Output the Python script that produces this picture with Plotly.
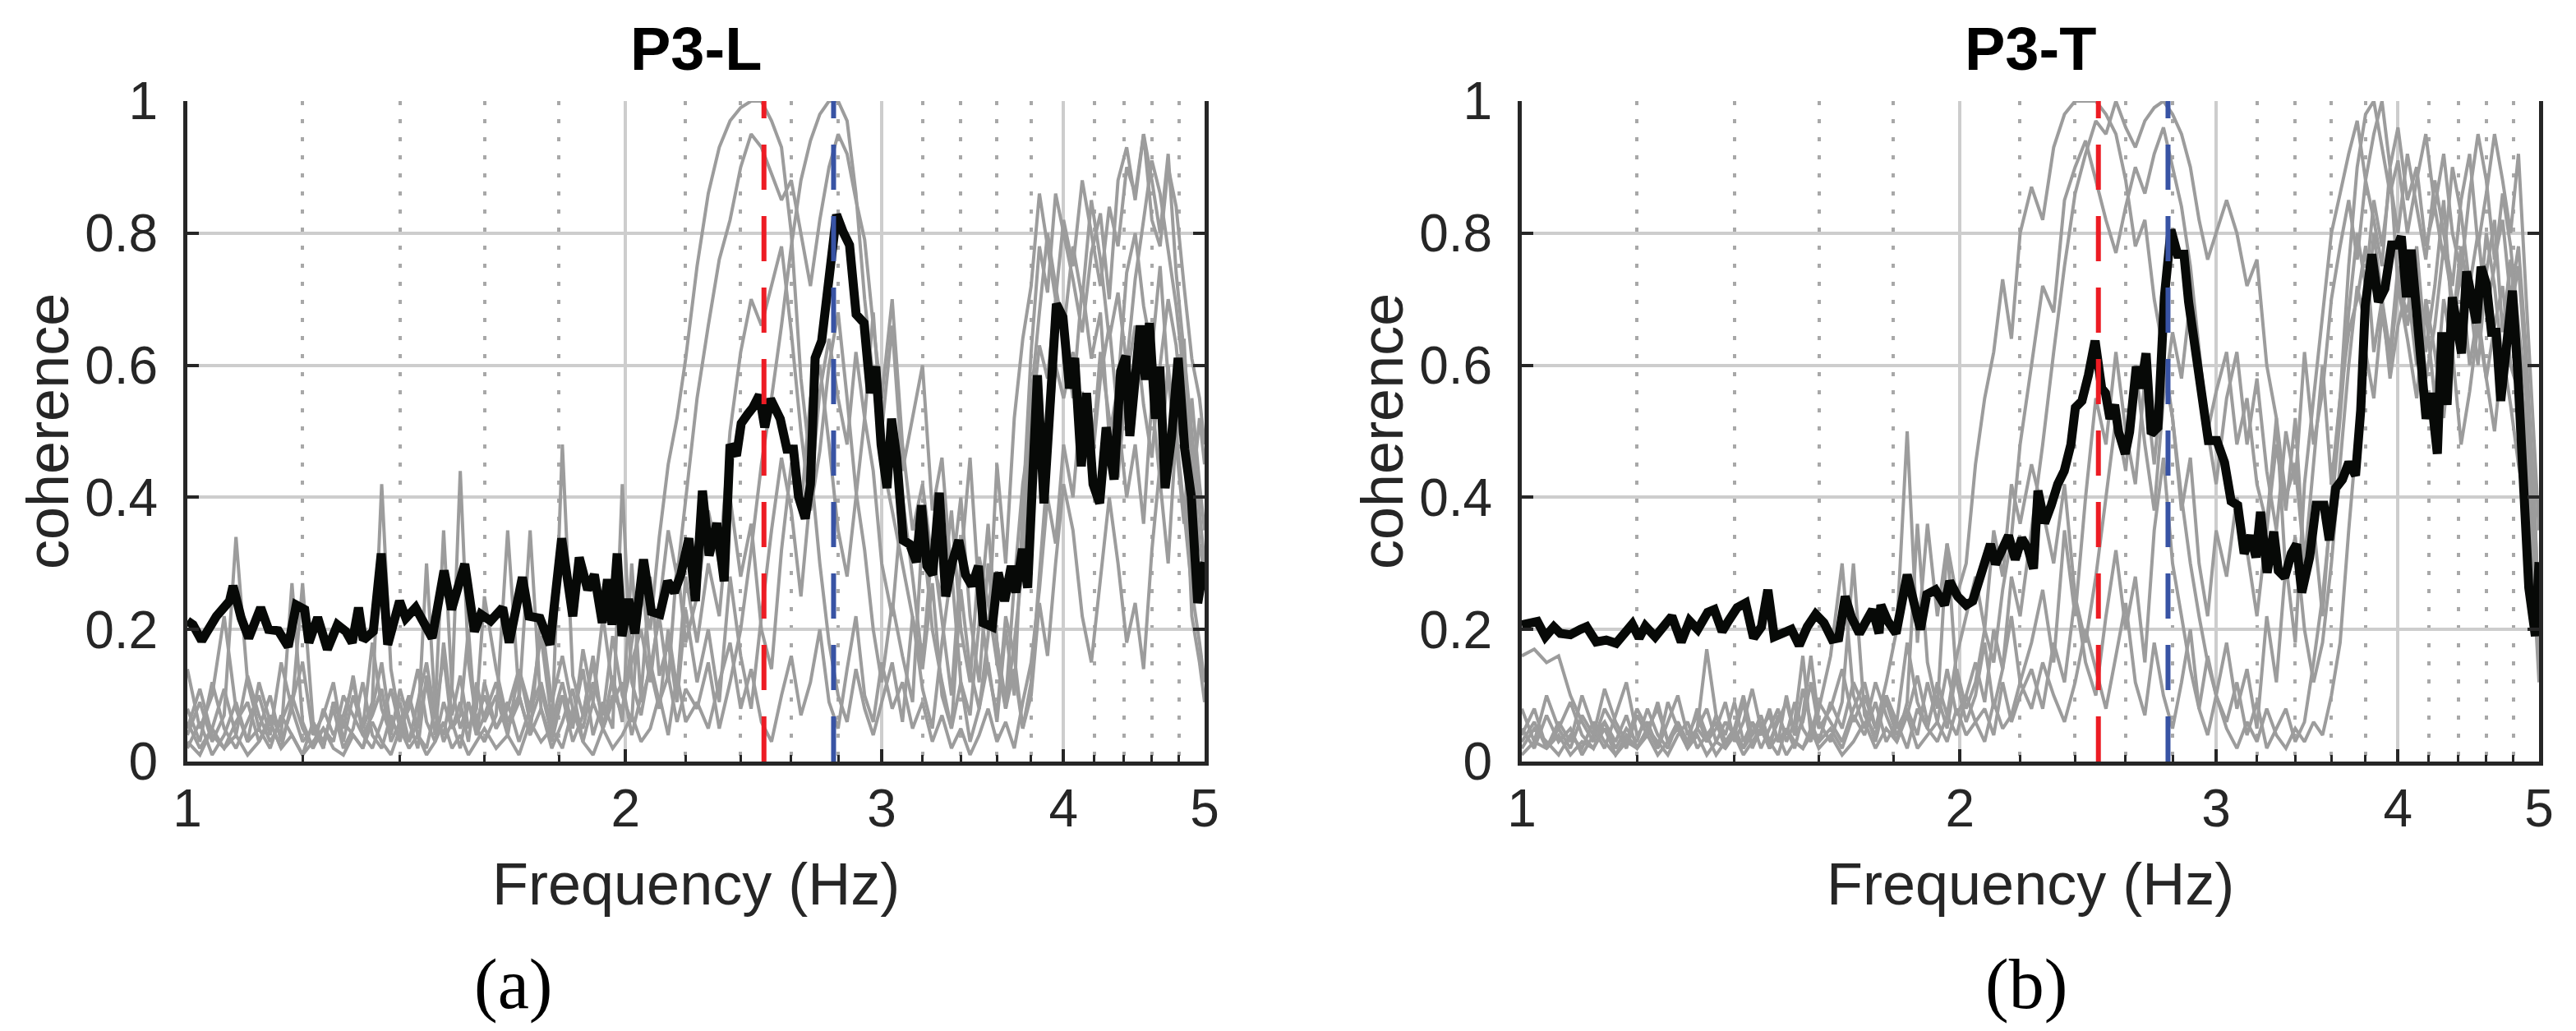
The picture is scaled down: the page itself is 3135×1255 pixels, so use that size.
import math
import plotly.graph_objects as go

# ---------------- data ----------------
# sampling grid (Hz) for the individual (grey) coherence curves
FG = [1.00, 1.02, 1.04, 1.06, 1.08, 1.10, 1.12, 1.14, 1.16, 1.18, 1.20, 1.22, 1.24, 1.26, 1.28, 1.30,
      1.32, 1.34, 1.36, 1.38, 1.40, 1.42, 1.44, 1.46, 1.48, 1.50, 1.52, 1.54, 1.56, 1.58, 1.60,
      1.63, 1.66, 1.69, 1.72, 1.75, 1.78, 1.81, 1.84, 1.87, 1.90, 1.93, 1.96, 1.99, 2.02, 2.05,
      2.08, 2.11, 2.14, 2.17, 2.20,
      2.24, 2.28, 2.32, 2.36, 2.40, 2.44, 2.48, 2.52, 2.56, 2.60, 2.64, 2.68, 2.72, 2.76, 2.80,
      2.84, 2.88, 2.92, 2.96, 3.00,
      3.05, 3.10, 3.15, 3.20, 3.25, 3.30, 3.35, 3.40, 3.45, 3.50, 3.55, 3.60, 3.65, 3.70, 3.75,
      3.80, 3.85, 3.90, 3.95, 4.00,
      4.06, 4.12, 4.18, 4.24, 4.30, 4.36, 4.42, 4.48, 4.54, 4.60, 4.66, 4.72, 4.78, 4.84, 4.90,
      4.96, 5.00]

# ---- P3-L individual curves ----
GL1 = ([0.14,0.05,0.10,0.22,0.08,0.03,0.12,0.06,0.02,0.09,0.15,0.04,0.07,0.12,0.03,0.10,0.05,0.18,0.08,0.04,0.11,0.06,0.02,0.13,0.07,0.16,0.05,0.09,0.03,0.12,0.06]
       + [0.10,0.04,0.14,0.08,0.19,0.06,0.12,0.05,0.17,0.09,0.22,0.11,0.07,0.18,0.26,0.20,0.34,0.45,0.52,0.61]
       + [0.75,0.86,0.93,0.97,0.99,1.00,1.00,0.97,0.93,0.80,0.58,0.45,0.30,0.18,0.10,0.06,0.14,0.08,0.04,0.09]
       + [0.15,0.06,0.22,0.11,0.05,0.18,0.29,0.12,0.07,0.21,0.36,0.18,0.09,0.27,0.42,0.51,0.63,0.58,0.70,0.66]
       + [0.55,0.72,0.61,0.68,0.49,0.57,0.74,0.80,0.69,0.62,0.75,0.58,0.47,0.64,0.40,0.52,0.45])
GL2 = ([0.04,0.09,0.03,0.07,0.34,0.12,0.05,0.10,0.03,0.08,0.27,0.06,0.02,0.09,0.05,0.13,0.04,0.07,0.11,0.03,0.06,0.10,0.04,0.02,0.08,0.35,0.11,0.05,0.09,0.04,0.07]
       + [0.12,0.05,0.09,0.35,0.08,0.03,0.10,0.06,0.14,0.04,0.09,0.05,0.42,0.12,0.07,0.15,0.09,0.13,0.06,0.11]
       + [0.08,0.15,0.05,0.12,0.20,0.32,0.45,0.55,0.66,0.78,0.88,0.94,0.98,1.00,1.00,0.97,0.86,0.70,0.58,0.46]
       + [0.38,0.30,0.22,0.14,0.27,0.10,0.05,0.12,0.03,0.08,0.15,0.06,0.20,0.10,0.38,0.62,0.78,0.71,0.86,0.80]
       + [0.73,0.65,0.77,0.83,0.70,0.88,0.93,0.85,0.95,0.82,0.78,0.90,0.84,0.72,0.61,0.55,0.48])
GL3 = ([0.06,0.02,0.05,0.11,0.04,0.13,0.07,0.03,0.06,0.10,0.05,0.02,0.08,0.04,0.07,0.12,0.05,0.09,0.42,0.14,0.06,0.03,0.09,0.15,0.07,0.04,0.11,0.44,0.15,0.06,0.10]
       + [0.05,0.08,0.14,0.06,0.11,0.04,0.48,0.13,0.07,0.16,0.05,0.10,0.08,0.15,0.20,0.12,0.24,0.35,0.28,0.40]
       + [0.55,0.66,0.76,0.82,0.90,0.95,0.93,0.89,0.85,0.88,0.80,0.72,0.82,0.90,0.95,0.92,0.85,0.79,0.66,0.55]
       + [0.70,0.48,0.35,0.42,0.30,0.25,0.38,0.20,0.12,0.31,0.24,0.15,0.08,0.18,0.30,0.55,0.68,0.80,0.72,0.65]
       + [0.78,0.70,0.85,0.76,0.64,0.71,0.60,0.73,0.82,0.91,0.86,0.77,0.69,0.58,0.45,0.33,0.28])
GL4 = ([0.02,0.06,0.01,0.04,0.09,0.03,0.05,0.02,0.07,0.04,0.01,0.06,0.03,0.08,0.02,0.05,0.12,0.04,0.02,0.07,0.03,0.10,0.05,0.30,0.08,0.03,0.06,0.02,0.09,0.05,0.03]
       + [0.07,0.35,0.10,0.04,0.08,0.02,0.06,0.11,0.03,0.09,0.05,0.13,0.06,0.30,0.09,0.14,0.22,0.12,0.30,0.18]
       + [0.25,0.38,0.30,0.50,0.62,0.70,0.66,0.72,0.78,0.65,0.50,0.38,0.47,0.60,0.68,0.55,0.41,0.32,0.20,0.12]
       + [0.24,0.16,0.09,0.35,0.20,0.12,0.05,0.26,0.14,0.08,0.19,0.45,0.30,0.52,0.64,0.72,0.86,0.78,0.70,0.82]
       + [0.75,0.88,0.80,0.72,0.84,0.78,0.90,0.86,0.95,0.88,0.80,0.92,0.74,0.62,0.50,0.38,0.30])
GL5 = ([0.08,0.03,0.12,0.05,0.02,0.06,0.10,0.04,0.15,0.08,0.03,0.05,0.02,0.09,0.06,0.04,0.02,0.08,0.15,0.05,0.09,0.03,0.06,0.12,0.04,0.18,0.07,0.13,0.05,0.08,0.25]
       + [0.14,0.06,0.10,0.04,0.22,0.09,0.16,0.08,0.05,0.12,0.07,0.19,0.10,0.06,0.30,0.14,0.08,0.20,0.11,0.28]
       + [0.18,0.30,0.22,0.40,0.28,0.36,0.20,0.14,0.32,0.45,0.38,0.55,0.60,0.48,0.35,0.28,0.40,0.52,0.44,0.30]
       + [0.22,0.40,0.28,0.15,0.33,0.21,0.10,0.30,0.46,0.25,0.14,0.07,0.22,0.16,0.05,0.12,0.28,0.45,0.60,0.55]
       + [0.62,0.50,0.44,0.58,0.66,0.52,0.40,0.48,0.36,0.55,0.42,0.30,0.50,0.38,0.26,0.18,0.12])
GL6 = ([0.05,0.11,0.04,0.02,0.06,0.09,0.03,0.07,0.04,0.27,0.06,0.02,0.05,0.03,0.10,0.07,0.04,0.02,0.06,0.11,0.05,0.08,0.14,0.06,0.03,0.09,0.05,0.07,0.20,0.04,0.12]
       + [0.05,0.09,0.03,0.08,0.12,0.05,0.10,0.03,0.07,0.15,0.05,0.09,0.12,0.04,0.10,0.28,0.13,0.18,0.09,0.23]
       + [0.12,0.20,0.09,0.28,0.16,0.08,0.22,0.35,0.46,0.38,0.25,0.40,0.56,0.64,0.55,0.48,0.62,0.52,0.68,0.50]
       + [0.66,0.44,0.52,0.60,0.38,0.46,0.28,0.40,0.22,0.12,0.30,0.18,0.08,0.14,0.05,0.10,0.24,0.16,0.30,0.42]
       + [0.35,0.22,0.15,0.28,0.40,0.30,0.18,0.24,0.14,0.32,0.45,0.60,0.48,0.36,0.55,0.42,0.35])
GL7 = ([0.03,0.01,0.05,0.02,0.04,0.01,0.03,0.06,0.02,0.04,0.01,0.03,0.05,0.02,0.01,0.04,0.02,0.06,0.03,0.01,0.05,0.02,0.04,0.01,0.03,0.06,0.02,0.04,0.01,0.03,0.05]
       + [0.02,0.04,0.01,0.06,0.03,0.05,0.02,0.08,0.03,0.01,0.05,0.02,0.04,0.07,0.03,0.05,0.10,0.04,0.13,0.06]
       + [0.09,0.05,0.12,0.18,0.08,0.14,0.06,0.03,0.10,0.16,0.07,0.12,0.20,0.09,0.05,0.14,0.22,0.10,0.06,0.15]
       + [0.08,0.12,0.05,0.09,0.03,0.07,0.02,0.05,0.01,0.04,0.08,0.03,0.06,0.02,0.09,0.15,0.26,0.40,0.33,0.48]
       + [0.40,0.56,0.45,0.62,0.52,0.43,0.58,0.66,0.54,0.46,0.60,0.70,0.63,0.50,0.22,0.15,0.09])

# ---- P3-T individual curves ----
GR1 = ([0.16,0.17,0.15,0.16,0.10,0.06,0.03,0.08,0.05,0.02,0.07,0.04,0.09,0.03,0.06,0.02,0.05,0.08,0.03,0.06,0.04,0.09,0.02,0.05,0.07,0.03,0.10,0.04,0.06,0.12,0.05]
       + [0.08,0.14,0.06,0.10,0.05,0.12,0.20,0.50,0.18,0.36,0.22,0.33,0.25,0.30,0.45,0.55,0.62,0.73,0.64,0.80]
       + [0.87,0.82,0.93,0.98,1.00,1.00,1.00,0.98,0.95,0.88,0.78,0.82,0.70,0.62,0.52,0.40,0.30,0.22,0.15,0.10]
       + [0.18,0.08,0.14,0.05,0.22,0.12,0.30,0.18,0.42,0.55,0.68,0.80,0.86,0.92,0.97,0.88,0.95,1.00,0.90,0.96]
       + [0.85,0.90,0.78,0.84,0.92,0.80,0.74,0.86,0.95,0.88,0.76,0.82,0.70,0.78,0.62,0.40,0.22])
GR2 = ([0.05,0.02,0.07,0.03,0.05,0.01,0.04,0.06,0.02,0.05,0.03,0.08,0.04,0.02,0.06,0.03,0.05,0.17,0.07,0.03,0.05,0.02,0.06,0.04,0.08,0.03,0.05,0.02,0.07,0.16,0.06]
       + [0.03,0.09,0.30,0.07,0.04,0.10,0.05,0.08,0.04,0.12,0.06,0.14,0.07,0.10,0.15,0.09,0.20,0.14,0.28,0.22]
       + [0.35,0.48,0.62,0.75,0.86,0.92,0.97,0.95,1.00,0.96,0.93,0.97,0.99,1.00,0.98,0.95,0.90,0.82,0.76,0.80]
       + [0.85,0.80,0.72,0.76,0.60,0.52,0.40,0.45,0.30,0.36,0.22,0.40,0.55,0.75,0.90,0.98,1.00,0.93,0.86,0.91]
       + [0.80,0.88,0.95,0.84,0.76,0.90,0.83,0.72,0.80,0.68,0.75,0.86,0.78,0.66,0.55,0.35,0.18])
GR3 = ([0.03,0.06,0.02,0.05,0.09,0.04,0.02,0.06,0.03,0.07,0.02,0.05,0.08,0.03,0.06,0.02,0.05,0.03,0.07,0.04,0.09,0.03,0.06,0.02,0.05,0.08,0.03,0.06,0.16,0.04,0.09]
       + [0.06,0.03,0.08,0.12,0.05,0.09,0.04,0.07,0.13,0.06,0.10,0.05,0.14,0.08,0.12,0.20,0.15,0.26,0.34,0.48]
       + [0.60,0.72,0.68,0.85,0.90,0.94,0.88,0.82,0.77,0.84,0.90,0.86,0.92,0.96,0.90,0.84,0.75,0.62,0.50,0.42]
       + [0.55,0.62,0.48,0.58,0.44,0.35,0.50,0.42,0.62,0.48,0.56,0.70,0.78,0.85,0.76,0.88,0.82,0.75,0.90,0.72]
       + [0.68,0.78,0.62,0.72,0.85,0.66,0.78,0.70,0.60,0.74,0.82,0.65,0.76,0.62,0.50,0.30,0.15])
GR4 = ([0.08,0.03,0.10,0.05,0.02,0.07,0.04,0.11,0.06,0.03,0.08,0.05,0.02,0.06,0.10,0.04,0.07,0.03,0.05,0.09,0.03,0.06,0.11,0.05,0.02,0.07,0.04,0.09,0.05,0.03,0.08]
       + [0.16,0.30,0.10,0.05,0.12,0.07,0.03,0.09,0.36,0.15,0.08,0.33,0.12,0.06,0.10,0.18,0.08,0.14,0.22,0.12]
       + [0.18,0.26,0.15,0.35,0.22,0.40,0.55,0.48,0.62,0.50,0.42,0.58,0.45,0.60,0.52,0.38,0.46,0.30,0.22,0.35]
       + [0.28,0.40,0.32,0.22,0.35,0.48,0.38,0.52,0.30,0.45,0.60,0.42,0.55,0.65,0.70,0.78,0.62,0.70,0.58,0.66]
       + [0.72,0.60,0.68,0.55,0.70,0.62,0.48,0.56,0.66,0.58,0.50,0.62,0.54,0.45,0.38,0.26,0.12])
GR5 = ([0.02,0.05,0.03,0.01,0.04,0.02,0.06,0.03,0.01,0.04,0.02,0.05,0.03,0.01,0.04,0.06,0.02,0.04,0.01,0.03,0.05,0.02,0.04,0.06,0.03,0.01,0.05,0.03,0.02,0.04,0.03]
       + [0.05,0.02,0.07,0.04,0.09,0.03,0.06,0.02,0.08,0.05,0.03,0.07,0.04,0.10,0.06,0.08,0.04,0.12,0.06,0.10]
       + [0.14,0.08,0.18,0.12,0.25,0.15,0.10,0.22,0.32,0.20,0.28,0.15,0.35,0.46,0.30,0.22,0.14,0.08,0.16,0.10]
       + [0.06,0.12,0.04,0.09,0.02,0.05,0.08,0.03,0.06,0.15,0.25,0.38,0.52,0.68,0.80,0.72,0.85,0.78,0.88,0.80]
       + [0.92,0.84,0.76,0.88,0.80,0.72,0.85,0.92,0.78,0.86,0.95,0.88,0.80,0.92,0.70,0.50,0.35])
GR6 = ([0.04,0.08,0.02,0.06,0.03,0.10,0.05,0.02,0.07,0.12,0.04,0.06,0.02,0.09,0.05,0.03,0.08,0.04,0.06,0.02,0.05,0.10,0.04,0.07,0.03,0.06,0.09,0.04,0.11,0.06,0.03]
       + [0.09,0.05,0.12,0.08,0.03,0.10,0.06,0.18,0.09,0.05,0.12,0.07,0.16,0.22,0.28,0.20,0.35,0.28,0.42,0.36]
       + [0.45,0.38,0.30,0.42,0.25,0.18,0.28,0.40,0.52,0.44,0.60,0.48,0.38,0.55,0.65,0.58,0.70,0.62,0.50,0.56]
       + [0.62,0.48,0.55,0.42,0.36,0.52,0.28,0.34,0.20,0.12,0.18,0.30,0.45,0.60,0.72,0.66,0.80,0.70,0.62,0.75]
       + [0.66,0.74,0.58,0.66,0.78,0.70,0.62,0.74,0.66,0.80,0.72,0.60,0.68,0.75,0.58,0.42,0.20])
GR7 = ([0.01,0.03,0.02,0.04,0.01,0.03,0.02,0.05,0.01,0.03,0.02,0.04,0.01,0.03,0.05,0.02,0.04,0.01,0.03,0.02,0.04,0.01,0.03,0.05,0.02,0.04,0.01,0.03,0.02,0.05,0.02]
       + [0.04,0.01,0.03,0.06,0.02,0.05,0.03,0.07,0.02,0.04,0.06,0.03,0.08,0.04,0.06,0.03,0.09,0.05,0.07,0.12]
       + [0.08,0.15,0.10,0.06,0.12,0.20,0.14,0.08,0.16,0.24,0.12,0.07,0.18,0.10,0.05,0.12,0.20,0.08,0.04,0.10]
       + [0.05,0.02,0.06,0.03,0.08,0.04,0.02,0.05,0.03,0.06,0.04,0.10,0.18,0.35,0.50,0.62,0.55,0.68,0.60,0.72]
       + [0.64,0.55,0.70,0.62,0.52,0.66,0.74,0.60,0.68,0.58,0.66,0.72,0.60,0.56,0.45,0.28,0.14])

# ---- mean coherence, P3-L ----
F_L = [1.000,1.009,1.023,1.047,1.069,1.075,1.089,1.102,1.123,1.137,
       1.155,1.173,1.188,1.204,1.212,1.229,1.248,1.268,1.285,1.298,
       1.311,1.321,1.342,1.359,1.373,1.399,1.413,1.435,1.473,1.501,
       1.519,1.551,1.575,1.591,1.616,1.647,1.664,1.676,1.699,1.717,
       1.747,1.775,1.808,1.840,1.859,1.884,1.904,1.928,1.944,1.958,
       1.974,1.989,2.010,2.030,2.058,2.084,2.112,2.138,2.161,2.183,
       2.211,2.234,2.259,2.283,2.311,2.338,2.360,2.384,2.402,2.427,
       2.447,2.472,2.493,2.516,2.537,2.555,2.582,2.609,2.630,2.658,
       2.680,2.700,2.728,2.756,2.793,2.822,2.851,2.881,2.917,2.947,
       2.972,2.997,3.025,3.047,3.072,3.104,3.136,3.169,3.195,3.222,
       3.252,3.286,3.320,3.354,3.389,3.425,3.460,3.496,3.522,3.573,
       3.607,3.644,3.682,3.709,3.748,3.779,3.810,3.838,3.878,3.918,
       3.955,3.996,4.038,4.071,4.114,4.148,4.191,4.235,4.279,4.333,
       4.378,4.414,4.442,4.488,4.516,4.553,4.582,4.625,4.658,4.697,
       4.746,4.795,4.845,4.896,4.946,5.000]
Y_L = [0.213,0.207,0.183,0.22,0.243,0.266,0.217,0.187,0.233,0.2,
       0.198,0.174,0.237,0.23,0.18,0.218,0.17,0.207,0.197,0.18,
       0.233,0.184,0.197,0.315,0.177,0.243,0.217,0.233,0.187,0.289,
       0.23,0.299,0.197,0.223,0.213,0.233,0.18,0.22,0.279,0.22,
       0.217,0.177,0.338,0.22,0.309,0.26,0.283,0.21,0.276,0.207,
       0.315,0.19,0.246,0.194,0.306,0.227,0.223,0.273,0.256,0.283,
       0.338,0.243,0.41,0.312,0.361,0.273,0.48,0.463,0.512,0.526,
       0.536,0.555,0.506,0.549,0.529,0.519,0.473,0.473,0.401,0.368,
       0.42,0.611,0.637,0.723,0.828,0.802,0.782,0.677,0.664,0.558,
       0.598,0.48,0.414,0.519,0.46,0.335,0.329,0.302,0.388,0.296,
       0.283,0.407,0.25,0.302,0.335,0.283,0.266,0.296,0.21,0.204,
       0.286,0.243,0.296,0.256,0.322,0.263,0.401,0.585,0.391,0.565,
       0.693,0.673,0.565,0.611,0.447,0.558,0.42,0.391,0.506,0.427,
       0.591,0.614,0.493,0.598,0.66,0.578,0.664,0.519,0.598,0.414,
       0.493,0.611,0.473,0.401,0.24,0.302]

# ---- mean coherence, P3-T ----
F_R = [1.000,1.015,1.025,1.038,1.052,1.063,1.080,1.097,1.108,1.125,
       1.143,1.161,1.179,1.191,1.204,1.216,1.235,1.251,1.268,1.287,
       1.304,1.321,1.342,1.356,1.373,1.387,1.406,1.425,1.443,1.461,
       1.476,1.491,1.512,1.532,1.551,1.571,1.592,1.613,1.634,1.651,
       1.668,1.685,1.706,1.720,1.742,1.760,1.765,1.784,1.808,1.840,
       1.859,1.879,1.898,1.924,1.952,1.968,1.993,2.020,2.041,2.062,
       2.077,2.099,2.116,2.142,2.160,2.183,2.206,2.228,2.247,2.263,
       2.287,2.311,2.335,2.359,2.384,2.401,2.426,2.451,2.477,2.503,
       2.518,2.536,2.555,2.571,2.598,2.616,2.644,2.663,2.685,2.707,
       2.736,2.764,2.793,2.822,2.851,2.872,2.902,2.932,2.963,3.003,
       3.040,3.072,3.104,3.136,3.169,3.195,3.218,3.252,3.286,3.310,
       3.344,3.379,3.407,3.435,3.478,3.514,3.558,3.588,3.625,3.663,
       3.701,3.740,3.771,3.798,3.838,3.878,3.918,3.959,4.000,4.021,
       4.054,4.084,4.114,4.148,4.182,4.213,4.257,4.287,4.323,4.359,
       4.391,4.423,4.459,4.496,4.529,4.562,4.600,4.638,4.672,4.706,
       4.745,4.794,4.834,4.869,4.920,4.971,5.000]
Y_R = [0.207,0.21,0.212,0.189,0.204,0.194,0.192,0.2,0.204,0.181,
       0.184,0.179,0.194,0.208,0.187,0.205,0.189,0.207,0.22,0.181,
       0.213,0.2,0.226,0.23,0.197,0.213,0.233,0.24,0.187,0.204,
       0.26,0.189,0.194,0.2,0.176,0.204,0.223,0.21,0.185,0.187,
       0.25,0.218,0.194,0.21,0.23,0.194,0.237,0.213,0.194,0.283,
       0.243,0.2,0.253,0.26,0.237,0.273,0.25,0.237,0.243,0.279,
       0.296,0.329,0.299,0.325,0.342,0.306,0.338,0.322,0.292,0.41,
       0.361,0.388,0.42,0.44,0.48,0.536,0.546,0.585,0.637,0.565,
       0.558,0.519,0.54,0.499,0.466,0.499,0.598,0.565,0.618,0.496,
       0.506,0.703,0.805,0.768,0.768,0.696,0.618,0.558,0.486,0.486,
       0.453,0.394,0.388,0.315,0.342,0.309,0.378,0.286,0.348,0.289,
       0.279,0.315,0.329,0.256,0.309,0.388,0.388,0.335,0.414,0.427,
       0.453,0.433,0.532,0.69,0.768,0.696,0.716,0.782,0.782,0.795,
       0.703,0.775,0.696,0.637,0.519,0.558,0.466,0.65,0.54,0.703,
       0.657,0.618,0.742,0.703,0.664,0.749,0.723,0.65,0.65,0.546,
       0.624,0.713,0.591,0.453,0.263,0.19,0.302]

RED_F = 2.49    # first reference frequency (red dashed)
BLUE_F = 2.78   # second reference frequency (blue dashed)

TITLES = ["P3-L", "P3-T"]
SUBLABELS = ["(a)", "(b)"]
X_TITLE = "Frequency (Hz)"
Y_TITLE = "coherence"
MAJOR_X = [1, 2, 3, 4, 5]
MINOR_X = [1.2, 1.4, 1.6, 1.8, 2.2, 2.4, 2.6, 2.8, 3.2, 3.4, 3.6, 3.8, 4.2, 4.4, 4.6, 4.8]
Y_TICKS = [0, 0.2, 0.4, 0.6, 0.8, 1]
Y_TICKTEXT = ["0", "0.2", "0.4", "0.6", "0.8", "1"]

GRAY_L = [GL1, GL2, GL3, GL4, GL5, GL6, GL7]
GRAY_R = [GR1, GR2, GR3, GR4, GR5, GR6, GR7]
for g in GRAY_L + GRAY_R:
    assert len(g) == len(FG), len(g)
assert len(F_L) == len(Y_L) and len(F_R) == len(Y_R)

# ---------------- styling ----------------
W, H = 3135, 1255
SANS = "Liberation Sans, Arial, Helvetica, sans-serif"
SERIF = "Liberation Serif, Times New Roman, serif"
INK = "#262626"
GREY = "#9c9c9c"
BLACK = "#070907"
RED = "#ED1C24"
BLUE = "#3853A4"
XR = [0, math.log10(5)]

def fx(p):
    return p / W

def fy(p):
    return 1 - p / H

# plot areas in pixels
PANELS = [(220, 1458), (1844, 3082)]
TOP, BOT = 115, 919
YDOM = [fy(BOT), fy(TOP)]

fig = go.Figure()
sets = [("x", "y", GRAY_L, F_L, Y_L), ("x2", "y2", GRAY_R, F_R, Y_R)]
for xa, ya, grays, fb, yb in sets:
    for g in grays:
        fig.add_trace(go.Scatter(x=FG, y=g, mode="lines", xaxis=xa, yaxis=ya,
                                 line=dict(color=GREY, width=4), hoverinfo="skip"))
    fig.add_trace(go.Scatter(x=fb, y=yb, mode="lines", xaxis=xa, yaxis=ya,
                             line=dict(color=BLACK, width=11), hoverinfo="skip"))
    for f, c in ((RED_F, RED), (BLUE_F, BLUE)):
        fig.add_trace(go.Scatter(x=[f, f], y=[0, 1], mode="lines", xaxis=xa, yaxis=ya,
                                 line=dict(color=c, width=6, dash="55px,32px"), hoverinfo="skip"))


def bottom_x(domain, anchor):
    return dict(type="log", range=XR, autorange=False, domain=domain, anchor=anchor,
                tickmode="array", tickvals=MAJOR_X, ticktext=[str(v) for v in MAJOR_X],
                ticks="inside", ticklen=15, tickwidth=4, tickcolor=INK,
                showline=True, linecolor=INK, linewidth=5, mirror=False,
                showgrid=True, gridcolor="#cdcdcd", gridwidth=3.5, zeroline=False,
                minor=dict(tickmode="array", tickvals=MINOR_X, ticks="inside", ticklen=8,
                           tickwidth=3, tickcolor=INK, showgrid=True, gridcolor="#a8a8a8",
                           gridwidth=3.5, griddash="5px,17px"),
                tickfont=dict(family=SANS, size=64, color=INK), ticklabelstandoff=-3,
                fixedrange=True)


def top_x(over, anchor):
    return dict(type="log", range=XR, autorange=False, overlaying=over, anchor=anchor, side="top",
                tickmode="array", tickvals=MAJOR_X, ticks="inside", ticklen=12, tickwidth=4,
                tickcolor=INK, showticklabels=False, showline=True, linecolor="#9a9a9a",
                linewidth=5, showgrid=False, zeroline=False,
                minor=dict(tickmode="array", tickvals=MINOR_X, ticks="inside", ticklen=7,
                           tickwidth=3, tickcolor=INK, showgrid=False),
                fixedrange=True)


def left_y(anchor):
    return dict(range=[0, 1], autorange=False, domain=YDOM, anchor=anchor,
                tickmode="array", tickvals=Y_TICKS, ticktext=Y_TICKTEXT,
                ticks="inside", ticklen=14, tickwidth=4, tickcolor=INK,
                showline=True, linecolor=INK, linewidth=5, mirror="ticks",
                showgrid=True, gridcolor="#cdcdcd", gridwidth=4, zeroline=False,
                tickfont=dict(family=SANS, size=64, color=INK), ticklabelstandoff=18,
                fixedrange=True)


(l1, r1), (l2, r2) = PANELS
layout = dict(
    width=W, height=H, template="none", showlegend=False,
    margin=dict(l=0, r=0, t=0, b=0, pad=0),
    paper_bgcolor="white", plot_bgcolor="white",
    font=dict(family=SANS, color=INK),
    xaxis=bottom_x([fx(l1), fx(r1)], "y"),
    yaxis=left_y("x"),
    xaxis2=bottom_x([fx(l2), fx(r2)], "y2"),
    yaxis2=left_y("x2"),
    xaxis3=top_x("x", "y"),
    xaxis4=top_x("x2", "y2"),
)
fig.update_layout(**layout)

ann = []
sub_x = [616, 2458]
for i, (l, r) in enumerate(PANELS):
    cx = (l + r) / 2
    ann.append(dict(text="<b>" + TITLES[i] + "</b>", x=fx(cx), y=fy(8), xref="paper", yref="paper",
                    xanchor="center", yanchor="top", showarrow=False,
                    font=dict(family=SANS, size=74, color="black")))
    ann.append(dict(text=X_TITLE, x=fx(cx), y=fy(1026), xref="paper", yref="paper",
                    xanchor="center", yanchor="top", showarrow=False,
                    font=dict(family=SANS, size=72, color=INK)))
    ann.append(dict(text=Y_TITLE, x=fx(l - 170), y=fy((TOP + BOT) / 2), xref="paper", yref="paper",
                    xanchor="center", yanchor="middle", textangle=-90, showarrow=False,
                    font=dict(family=SANS, size=72, color=INK)))
    ann.append(dict(text=SUBLABELS[i], x=fx(sub_x[i]), y=fy(1190), xref="paper", yref="paper",
                    xanchor="center", yanchor="middle", showarrow=False,
                    font=dict(family=SERIF, size=86, color="black")))
fig.update_layout(annotations=ann)

fig.write_html("out.html")
